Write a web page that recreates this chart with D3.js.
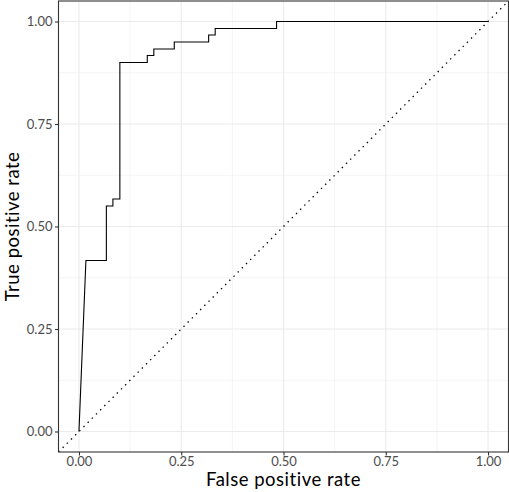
<!DOCTYPE html>
<html>
<head>
<meta charset="utf-8">
<script src="https://cdn.jsdelivr.net/npm/d3@7"></script>
<style>
  body { margin: 0; background: #fff; }
  svg { display: block; }
  .tick-label { font-family: Lato, "Open Sans", sans-serif; font-size: 13px; fill: #4d4d4d; }
  .axis-title { font-family: Lato, "Open Sans", sans-serif; font-size: 18.5px; letter-spacing: 0.5px; fill: #000; }
</style>
</head>
<body>
<svg id="chart" width="509" height="492"></svg>
<script>
// ROC curve points
const fpr = [0, 0.017, 0.067, 0.067, 0.083, 0.083, 0.1, 0.1, 0.167, 0.167, 0.183, 0.183,
             0.233, 0.233, 0.317, 0.317, 0.333, 0.333, 0.483, 0.483, 1.0];
const tpr = [0, 0.417, 0.417, 0.55, 0.55, 0.567, 0.567, 0.9, 0.9, 0.917, 0.917, 0.933,
             0.933, 0.95, 0.95, 0.967, 0.967, 0.983, 0.983, 1.0, 1.0];
const majorTicks = [0, 0.25, 0.5, 0.75, 1];
const minorTicks = [0.125, 0.375, 0.625, 0.875];
const tickLabels = ['0.00', '0.25', '0.50', '0.75', '1.00'];

const svg = d3.select('#chart');

// panel
const PANEL = { left: 58.5, right: 508.5, top: 1, bottom: 452 };

const x = d3.scaleLinear().domain([-0.05, 1.05]).range([PANEL.left, PANEL.right]);
const y = d3.scaleLinear().domain([-0.05, 1.05]).range([PANEL.bottom, PANEL.top]);

svg.append('defs').append('clipPath').attr('id', 'clip')
  .append('rect')
  .attr('x', PANEL.left).attr('y', PANEL.top)
  .attr('width', PANEL.right - PANEL.left).attr('height', PANEL.bottom - PANEL.top);

const grid = svg.append('g');

// minor grid
minorTicks.forEach((t) => {
  grid.append('line')
    .attr('x1', x(t)).attr('x2', x(t)).attr('y1', PANEL.top).attr('y2', PANEL.bottom)
    .attr('stroke', '#ebebeb').attr('stroke-width', 0.55);
  grid.append('line')
    .attr('y1', y(t)).attr('y2', y(t)).attr('x1', PANEL.left).attr('x2', PANEL.right)
    .attr('stroke', '#ebebeb').attr('stroke-width', 0.55);
});

// major grid
majorTicks.forEach((t) => {
  grid.append('line')
    .attr('x1', x(t)).attr('x2', x(t)).attr('y1', PANEL.top).attr('y2', PANEL.bottom)
    .attr('stroke', '#ebebeb').attr('stroke-width', 1.1);
  grid.append('line')
    .attr('y1', y(t)).attr('y2', y(t)).attr('x1', PANEL.left).attr('x2', PANEL.right)
    .attr('stroke', '#ebebeb').attr('stroke-width', 1.1);
});

const plot = svg.append('g').attr('clip-path', 'url(#clip)');

// diagonal reference line
plot.append('line')
  .attr('x1', x(-0.05)).attr('y1', y(-0.05))
  .attr('x2', x(1.05)).attr('y2', y(1.05))
  .attr('stroke', '#000')
  .attr('stroke-width', 1.3)
  .attr('stroke-dasharray', '1.4,4.5');

// ROC curve
const points = fpr.map((f, i) => [f, tpr[i]]);
plot.append('path')
  .datum(points)
  .attr('fill', 'none')
  .attr('stroke', '#000')
  .attr('stroke-width', 1.1)
  .attr('d', d3.line().x((d) => x(d[0])).y((d) => y(d[1])));

// panel border
svg.append('rect')
  .attr('x', PANEL.left).attr('y', PANEL.top)
  .attr('width', PANEL.right - PANEL.left).attr('height', PANEL.bottom - PANEL.top)
  .attr('fill', 'none').attr('stroke', '#333').attr('stroke-width', 1.1);

// axes
const xAxis = d3.axisBottom(x).tickValues(majorTicks)
  .tickFormat((d, i) => tickLabels[i]).tickSize(3.5).tickPadding(1.5);
const yAxis = d3.axisLeft(y).tickValues(majorTicks)
  .tickFormat((d, i) => tickLabels[i]).tickSize(3.5).tickPadding(2.5);

const gx = svg.append('g').attr('transform', `translate(0,${PANEL.bottom})`).call(xAxis);
const gy = svg.append('g').attr('transform', `translate(${PANEL.left},0)`).call(yAxis);

[gx, gy].forEach((g) => {
  g.select('.domain').remove();
  g.selectAll('.tick line').attr('stroke', '#333').attr('stroke-width', 1.1);
  g.selectAll('.tick text').attr('class', 'tick-label').attr('fill', null);
});

// axis titles
svg.append('text')
  .attr('class', 'axis-title')
  .attr('x', (PANEL.left + PANEL.right) / 2)
  .attr('y', 486)
  .attr('text-anchor', 'middle')
  .text('False positive rate');

svg.append('text')
  .attr('class', 'axis-title')
  .attr('transform', `translate(19,${(PANEL.top + PANEL.bottom) / 2}) rotate(-90)`)
  .attr('text-anchor', 'middle')
  .text('True positive rate');
</script>
</body>
</html>
